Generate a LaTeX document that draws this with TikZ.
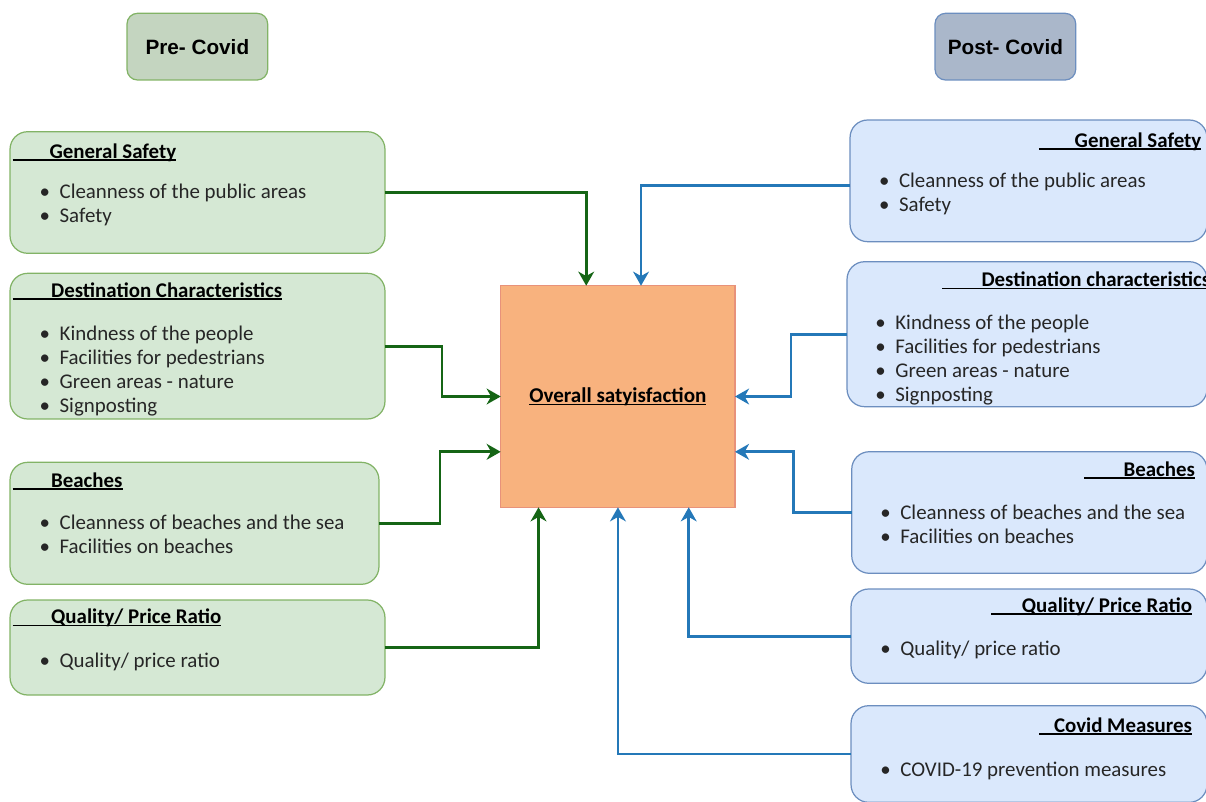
\documentclass[tikz,border=0pt]{standalone}
\usepackage{fontspec}
\setmainfont{Carlito}
\newfontfamily\titlefont{Liberation Sans}
\usetikzlibrary{arrows.meta,calc}

\definecolor{preF}{HTML}{C4D5C0}
\definecolor{postF}{HTML}{AAB7CA}
\definecolor{greenB}{HTML}{82B366}
\definecolor{greenF}{HTML}{D5E8D4}
\definecolor{blueB}{HTML}{6C8EBF}
\definecolor{blueF}{HTML}{DAE8FC}
\definecolor{centreF}{HTML}{F8B27E}
\definecolor{centreB}{HTML}{E8927A}
\definecolor{gArrow}{HTML}{156515}
\definecolor{bArrow}{HTML}{2478B8}
\definecolor{bodyText}{HTML}{262626}

% underline drawn just below the baseline, through descenders
\newcommand\uln[1]{\leavevmode\setbox0\hbox{#1}\rlap{\rule[-0.05cm]{\wd0}{0.6pt}}\box0}
\newcommand\hd[2]{\uln{\hspace*{#1}\textbf{#2}}}
\newcommand\itm{\makebox[0.40cm][l]{\textbullet}}

\begin{document}
\begin{tikzpicture}[x=0.02cm,y=-0.02cm,
  lbox/.style={draw=greenB, fill=greenF, line width=0.7pt, rounded corners=10pt, inner sep=0, outer sep=0},
  rbox/.style={draw=blueB, fill=blueF, line width=0.7pt, rounded corners=10pt, inner sep=0, outer sep=0},
  titlebox/.style={line width=0.7pt, rounded corners=6pt, inner sep=0, outer sep=0,
    minimum width=2.814cm, minimum height=1.334cm,
    font=\titlefont\bfseries\fontsize{11.8}{14}\selectfont},
  hdtext/.style={inner sep=0, font=\fontsize{11.9}{13.5}\selectfont},
  % lists are placed by the baseline of their last line
  listtext/.style={anchor=base west, inner sep=0, align=left, text=bodyText,
    font=\fontsize{11.9}{13.5}\selectfont},
  garrow/.style={draw=gArrow, line width=1.6pt, -{Stealth[length=8pt,width=9pt,inset=2.5pt]}},
  barrow/.style={draw=bArrow, line width=1.6pt, -{Stealth[length=8pt,width=9pt,inset=2.5pt]}}]

\useasboundingbox (0,0) rectangle (1206,801);
\clip (0,0) rectangle (1206,801);

% column titles
\node[titlebox, draw=greenB, fill=preF] (pre) at (197.35,46.65) {Pre- Covid};
\node[titlebox, draw=blueB, fill=postF] (post) at (1005.35,46.65) {Post- Covid};

% central box
\node[draw=centreB, fill=centreF, line width=0.7pt, inner sep=0, outer sep=0,
  minimum width=4.686cm, minimum height=4.432cm, font=\fontsize{12}{13.5}\selectfont]
  (c) at (617.85,396.5) {\uln{\textbf{Overall satyisfaction}}};

% pre-covid factor boxes
\node[lbox, minimum width=7.5cm, minimum height=2.432cm] (lgs) at (197.5,192.5) {};
\node[lbox, minimum width=7.5cm, minimum height=2.914cm] (ldc) at (197.5,346.15) {};
\node[lbox, minimum width=7.38cm, minimum height=2.44cm] (lbe) at (194.5,523.3) {};
\node[lbox, minimum width=7.5cm, minimum height=1.9cm] (lqp) at (197.5,647.5) {};

\node[hdtext, anchor=base west] (lgsH) at (12.3,158) {\hd{0.74cm}{General Safety}};
\node[listtext] (lgsL) at (39.3,222.5) {\itm Cleanness of the public areas\\ \itm Safety};
\node[hdtext, anchor=base west] (ldcH) at (12.3,297) {\hd{0.77cm}{Destination Characteristics}};
\node[listtext] (ldcL) at (39.3,412) {\itm Kindness of the people\\ \itm Facilities for pedestrians\\ \itm Green areas - nature\\ \itm Signposting};
\node[hdtext, anchor=base west] (lbeH) at (12.3,487) {\hd{0.77cm}{Beaches}};
\node[listtext] (lbeL) at (39.3,553) {\itm Cleanness of beaches and the sea\\ \itm Facilities on beaches};
\node[hdtext, anchor=base west] (lqpH) at (12.3,623.5) {\hd{0.77cm}{Quality/ Price Ratio}};
\node[listtext] (lqpL) at (39.3,667) {\itm Quality/ price ratio};

% post-covid factor boxes
\node[rbox, minimum width=7.14cm, minimum height=2.434cm] (rgs) at (1028.5,180.85) {};
\node[rbox, minimum width=7.2cm, minimum height=2.9cm] (rdc) at (1027,334.2) {};
\node[rbox, minimum width=7.106cm, minimum height=2.432cm] (rbe) at (1029.35,512.5) {};
\node[rbox, minimum width=7.12cm, minimum height=1.886cm] (rqp) at (1029,636.15) {};
\node[rbox, minimum width=7.12cm, minimum height=1.932cm] (rcm) at (1029,754) {};

\node[hdtext, anchor=base east] (rgsH) at (1201.7,147) {\hd{0.72cm}{General Safety}};
\node[listtext] (rgsL) at (878.7,211) {\itm Cleanness of the public areas\\ \itm Safety};
\node[hdtext, anchor=base west] (rdcH) at (941.7,286.7) {\hd{0.79cm}{Destination characteristics}};
\node[listtext] (rdcL) at (875,401) {\itm Kindness of the people\\ \itm Facilities for pedestrians\\ \itm Green areas - nature\\ \itm Signposting};
\node[hdtext, anchor=base east] (rbeH) at (1195.3,476) {\hd{0.79cm}{Beaches}};
\node[listtext] (rbeL) at (880,543) {\itm Cleanness of beaches and the sea\\ \itm Facilities on beaches};
\node[hdtext, anchor=base east] (rqpH) at (1192.3,612) {\hd{0.61cm}{Quality/ Price Ratio}};
\node[listtext] (rqpL) at (880,655) {\itm Quality/ price ratio};
\node[hdtext, anchor=base east] (rcmH) at (1192.3,732) {\hd{0.3cm}{Covid Measures}};
\node[listtext] (rcmL) at (880,776) {\itm COVID-19 prevention measures};

% pre-covid connectors
\draw[garrow] (lgs.east) -| ($(c.north west)+(85.5,0)$);
\draw[garrow] (ldc.east) -- ++(57,0) |- (c.west);
\draw[garrow] (lbe.east) -- ++(61,0) |- ($(c.west)+(0,55.3)$);
\draw[garrow] (lqp.east) -| ($(c.south west)+(37.8,0)$);

% post-covid connectors
\draw[barrow] ($(rgs.west)+(0,5)$) -| ($(c.north west)+(140.3,0)$);
\draw[barrow] (rdc.west) -- ++(-56,0) |- (c.east);
\draw[barrow] (rbe.west) -- ++(-58,0) |- ($(c.east)+(0,55.3)$);
\draw[barrow] (rqp.west) -| ($(c.south west)+(188,0)$);
\draw[barrow] (rcm.west) -| ($(c.south west)+(117.2,0)$);
\end{tikzpicture}
\end{document}
